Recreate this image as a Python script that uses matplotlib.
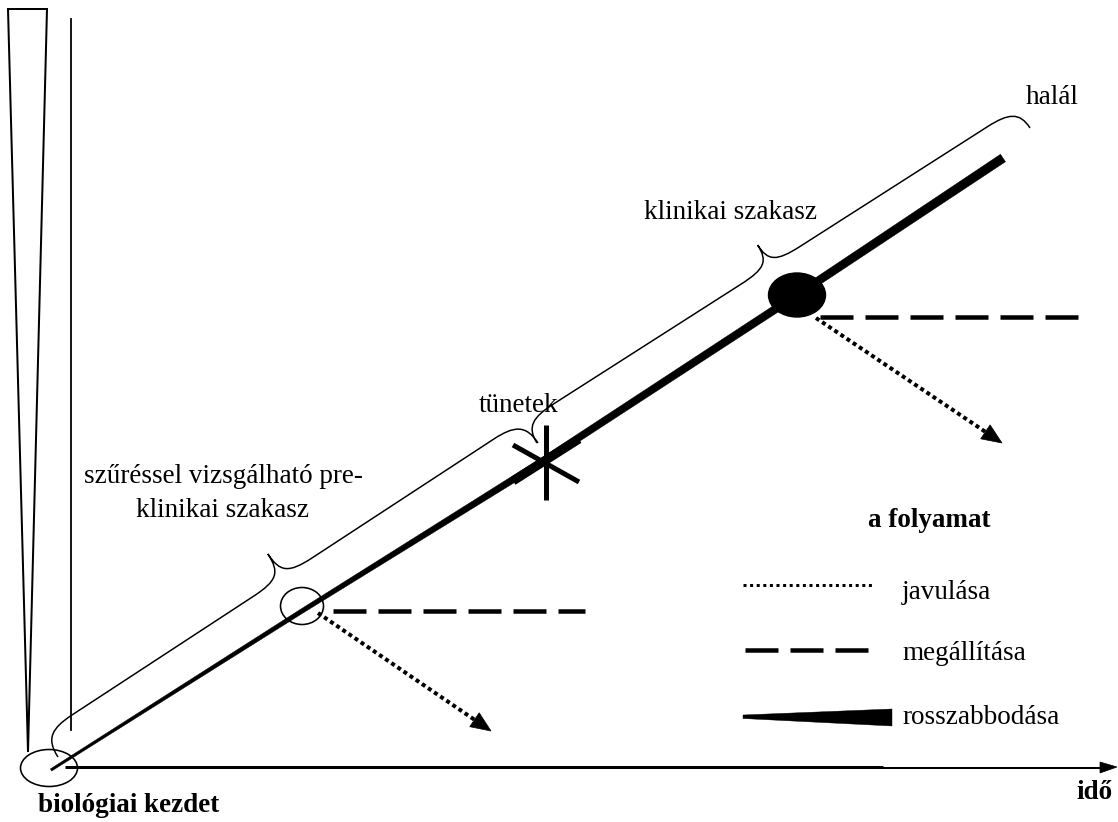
import numpy as np
import matplotlib
matplotlib.use('Agg')
import matplotlib.pyplot as plt
from matplotlib.path import Path
from matplotlib.patches import PathPatch, Ellipse, Polygon

W, H = 1118, 822
PX = 0.72  # points per pixel at dpi 100

# course of the disease (sheet pixels): start, screening, symptoms, clinical, end
course_x = [51, 302, 546, 797, 1003]
course_y = [770, 611, 459, 295, 158]
course_w = [2.5, 4.5, 7.0, 8.0, 9.0]

stage_text = ["szűréssel vizsgálható pre-\nklinikai szakasz", "klinikai szakasz"]
event_text = ["biológiai kezdet", "tünetek", "halál"]
legend_title = "a folyamat"
legend_labels = ["javulása", "megállítása", "rosszabbodása"]
axis_label = "idő"

plt.rcParams['font.family'] = ['Liberation Serif', 'DejaVu Serif']
FS = 19.5

fig = plt.figure(figsize=(W / 100, H / 100), dpi=100)
ax = fig.add_axes([0, 0, 1, 1])
ax.set_xlim(0, W)
ax.set_ylim(H, 0)
ax.axis('off')


def brace(p0, p1, h, r=35, lw=1.5):
    p0 = np.array(p0, float)
    p1 = np.array(p1, float)
    d = p1 - p0
    L = np.hypot(*d)
    t = d / L
    n = np.array([t[1], -t[0]])
    q = h * 0.5
    m = L / 2
    local = [(0, 0), (0, q * 0.8), (r * 0.3, q), (r, q),
             (m - r, q),
             (m - r * 0.2, q), (m, q + (h - q) * 0.2), (m, h),
             (m, q + (h - q) * 0.2), (m + r * 0.2, q), (m + r, q),
             (L - r, q),
             (L - r * 0.3, q), (L, q * 0.8), (L, 0)]
    codes = ([Path.MOVETO] + [Path.CURVE4] * 3 + [Path.LINETO] + [Path.CURVE4] * 6
             + [Path.LINETO] + [Path.CURVE4] * 3)
    pts = [p0 + u * t + v * n for u, v in local]
    ax.add_patch(PathPatch(Path(pts, codes), fc='none', ec='k', lw=lw * PX))


def dotted_arrow(p0, p1, lw_px=4, head=20):
    p0 = np.array(p0, float)
    p1 = np.array(p1, float)
    d = (p1 - p0) / np.hypot(*(p1 - p0))
    base = p1 - d * head
    ax.plot([p0[0], base[0]], [p0[1], base[1]], color='k', lw=lw_px * PX,
            ls=(0, (1, 0.85)), dash_capstyle='butt')
    nrm = np.array([d[1], -d[0]])
    ax.add_patch(Polygon([p1, base + nrm * head * 0.42, base - nrm * head * 0.42],
                         closed=True, fc='k', ec='k', lw=0.5))


def dashed(x0, x1, y, lw_px=4.5):
    ax.plot([x0, x1], [y, y], color='k', lw=lw_px * PX,
            ls=(0, (33 / lw_px, 12 / lw_px)), dash_capstyle='butt')


# narrowing bar and vertical line on the left
ax.add_patch(Polygon([(8, 9), (47, 9), (28, 752)], closed=True, fc='none', ec='k', lw=2 * PX))
ax.plot([71, 71], [19, 730], color='k', lw=1.8 * PX)

# time axis
ax.plot([65, 883], [767, 767], color='k', lw=3 * PX, solid_capstyle='butt')
ax.plot([883, 1102], [768, 768], color='k', lw=2 * PX, solid_capstyle='butt')
ax.add_patch(Polygon([(1100, 762), (1117, 767), (1100, 773)], closed=True, fc='k', ec='k', lw=0.5))

# main course as tapered segments
for i in range(len(course_x) - 1):
    a = np.array([course_x[i], course_y[i]], float)
    b = np.array([course_x[i + 1], course_y[i + 1]], float)
    d = (b - a) / np.hypot(*(b - a))
    nrm = np.array([d[1], -d[0]])
    wa, wb = course_w[i] / 2, course_w[i + 1] / 2
    ax.add_patch(Polygon([a + nrm * wa, b + nrm * wb, b - nrm * wb, a - nrm * wa],
                         closed=True, fc='k', ec='k', lw=0.3))

# start ellipse, screening ellipse, clinical dot
ax.add_patch(Ellipse((49, 768), 57, 37, fc='none', ec='k', lw=1.6 * PX))
ax.add_patch(Ellipse((302, 606), 43, 37, fc='none', ec='k', lw=1.6 * PX))
ax.add_patch(Ellipse((797, 295), 57, 44, fc='k', ec='k', lw=1))

# symptoms asterisk
ax.plot([546, 546], [425, 500], color='k', lw=5 * PX, solid_capstyle='butt')
ax.plot([513, 579], [445, 482], color='k', lw=5 * PX, solid_capstyle='butt')
ax.plot([513, 579], [481, 439], color='k', lw=9 * PX, solid_capstyle='butt')

# braces
brace((58, 757), (538, 443), 55)
brace((537, 443), (1030, 128), 48)

# outcomes
dashed(333, 585, 611)
dotted_arrow((318, 613), (491, 731))
dashed(820, 1085, 317)
dotted_arrow((816, 318), (1002, 443))

# legend
ax.text(868, 520, legend_title, fontsize=FS, fontweight='bold', va='center', ha='left')
ax.plot([743, 872], [585, 585], color='k', lw=3 * PX, ls=(0, (1, 1.2)), dash_capstyle='butt')
ax.plot([745, 870], [650, 650], color='k', lw=4.5 * PX, ls=(0, (33 / 4.5, 12 / 4.5)),
        dash_capstyle='butt')
ax.add_patch(Polygon([(743, 715), (892, 709), (892, 726), (743, 718.5)], closed=True,
                     fc='k', ec='k', lw=0.3))
for lab, y in zip(legend_labels, [592, 653, 717]):
    ax.text(902, y, lab, fontsize=FS, va='center', ha='left')

# labels
for line, y in zip(stage_text[0].split('\n'), [476, 510]):
    ax.text(223, y, line, fontsize=FS, ha='center', va='center')
ax.text(731, 212, stage_text[1], fontsize=FS, ha='center', va='center')
ax.text(129, 805, event_text[0], fontsize=FS, fontweight='bold', ha='center', va='center')
ax.text(519, 405, event_text[1], fontsize=FS, ha='center', va='center')
ax.text(1052, 98, event_text[2], fontsize=FS, ha='center', va='center')
ax.text(1094, 792, axis_label, fontsize=FS, fontweight='bold', ha='center', va='center')

fig.savefig('out.png', dpi=100)
